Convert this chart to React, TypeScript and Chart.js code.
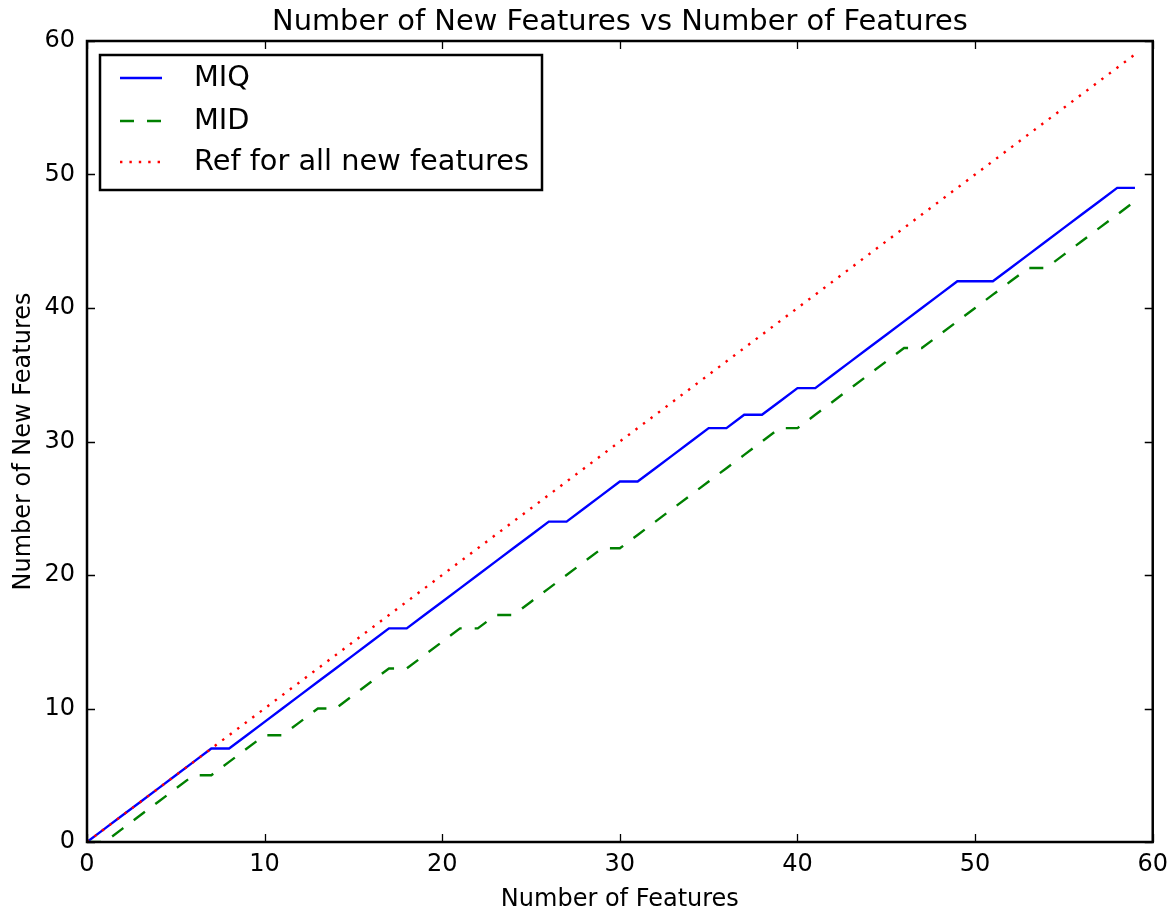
import React, { useEffect, useRef } from "react";
import { Chart, registerables } from "chart.js";

Chart.register(...registerables);

const features = [0,1,2,3,4,5,6,7,8,9,10,11,12,13,14,15,16,17,18,19,20,21,22,23,24,25,26,27,28,29,30,31,32,33,34,35,36,37,38,39,40,41,42,43,44,45,46,47,48,49,50,51,52,53,54,55,56,57,58,59];
const miq = [0,1,2,3,4,5,6,7,7,8,9,10,11,12,13,14,15,16,16,17,18,19,20,21,22,23,24,24,25,26,27,27,28,29,30,31,31,32,32,33,34,34,35,36,37,38,39,40,41,42,42,42,43,44,45,46,47,48,49,49];
const mid = [0,0,1,2,3,4,5,5,6,7,8,8,9,10,10,11,12,13,13,14,15,16,16,17,17,18,19,20,21,22,22,23,24,25,26,27,28,29,30,31,31,32,33,34,35,36,37,37,38,39,40,41,42,43,43,44,45,46,47,48];
const refAll = [0,1,2,3,4,5,6,7,8,9,10,11,12,13,14,15,16,17,18,19,20,21,22,23,24,25,26,27,28,29,30,31,32,33,34,35,36,37,38,39,40,41,42,43,44,45,46,47,48,49,50,51,52,53,54,55,56,57,58,59];
const seriesNames = ["MIQ", "MID", "Ref for all new features"];
const titleText = "Number of New Features vs Number of Features";
const xLabel = "Number of Features";
const yLabel = "Number of New Features";
const axisMin = 0;
const axisMax = 60;
const tickStep = 10;

const FONT = "'DejaVu Sans', 'Liberation Sans', sans-serif";

const decorPlugin = {
  id: "decor",
  afterDatasetsDraw(chart: any) {
    const ctx = chart.ctx;
    const a = chart.chartArea;
    const xs = chart.scales.x;
    const ys = chart.scales.y;
    ctx.save();
    // inward ticks on all sides
    ctx.strokeStyle = "#000";
    ctx.lineWidth = 1.3;
    const tl = 8;
    xs.ticks.forEach((t: any) => {
      const px = Math.round(xs.getPixelForValue(t.value)) + 0.5;
      ctx.beginPath();
      ctx.moveTo(px, a.bottom);
      ctx.lineTo(px, a.bottom - tl);
      ctx.moveTo(px, a.top);
      ctx.lineTo(px, a.top + tl);
      ctx.stroke();
    });
    ys.ticks.forEach((t: any) => {
      const py = Math.round(ys.getPixelForValue(t.value)) + 0.5;
      ctx.beginPath();
      ctx.moveTo(a.left, py);
      ctx.lineTo(a.left + tl, py);
      ctx.moveTo(a.right, py);
      ctx.lineTo(a.right - tl, py);
      ctx.stroke();
    });
    // frame
    ctx.lineWidth = 2.5;
    ctx.strokeRect(a.left, a.top, a.right - a.left, a.bottom - a.top);

    // legend
    const lx = a.left + 13;
    const ly = a.top + 14;
    const lw = 442;
    const lh = 135;
    ctx.fillStyle = "#fff";
    ctx.fillRect(lx, ly, lw, lh);
    ctx.lineWidth = 2.5;
    ctx.strokeStyle = "#000";
    ctx.strokeRect(lx, ly, lw, lh);
    const rows = [ly + 23, ly + 66, ly + 107];
    chart.data.datasets.forEach((ds: any, i: number) => {
      const y = rows[i];
      ctx.beginPath();
      ctx.strokeStyle = ds.borderColor;
      ctx.lineWidth = ds.borderWidth;
      ctx.setLineDash(ds.borderDash || []);
      ctx.lineCap = "butt";
      ctx.moveTo(lx + 20, y);
      ctx.lineTo(lx + 62, y);
      ctx.stroke();
      ctx.setLineDash([]);
      ctx.fillStyle = "#000";
      ctx.font = `28.8px ${FONT}`;
      ctx.textAlign = "left";
      ctx.textBaseline = "middle";
      ctx.fillText(ds.label, lx + 94, y + 1);
    });

    // title
    ctx.fillStyle = "#000";
    ctx.font = `28.9px ${FONT}`;
    ctx.textAlign = "center";
    ctx.textBaseline = "alphabetic";
    ctx.fillText(titleText, (a.left + a.right) / 2, a.top - 11);

    // axis titles
    ctx.font = `24px ${FONT}`;
    ctx.textBaseline = "alphabetic";
    ctx.fillText(xLabel, (a.left + a.right) / 2, a.bottom + 64);
    ctx.save();
    ctx.translate(30, (a.top + a.bottom) / 2);
    ctx.rotate(-Math.PI / 2);
    ctx.fillText(yLabel, 0, 0);
    ctx.restore();
    ctx.restore();
  },
};

export default function App() {
  const ref = useRef<HTMLCanvasElement | null>(null);
  useEffect(() => {
    if (!ref.current) return;
    const toPts = (arr: number[]) => features.map((f, i) => ({ x: f, y: arr[i] }));
    const chart = new Chart(ref.current, {
      type: "line",
      data: {
        datasets: [
          {
            label: seriesNames[0],
            data: toPts(miq),
            borderColor: "#0000ff",
            borderWidth: 2.4,
            pointRadius: 0,
            fill: false,
            tension: 0,
            order: 3,
          },
          {
            label: seriesNames[1],
            data: toPts(mid),
            borderColor: "#008000",
            borderWidth: 2.4,
            borderDash: [14, 13],
            pointRadius: 0,
            fill: false,
            tension: 0,
            order: 2,
          },
          {
            label: seriesNames[2],
            data: toPts(refAll),
            borderColor: "#ff0000",
            borderWidth: 2.4,
            borderDash: [2.4, 7],
            pointRadius: 0,
            fill: false,
            tension: 0,
            order: 1,
          },
        ],
      },
      options: {
        responsive: false,
        animation: false,
        events: [],
        layout: { padding: { left: 0, right: 20, top: 41, bottom: 0 } },
        plugins: {
          legend: { display: false },
          title: { display: false },
          tooltip: { enabled: false },
        },
        scales: {
          x: {
            type: "linear",
            min: axisMin,
            max: axisMax,
            ticks: {
              stepSize: tickStep,
              color: "#000",
              font: { family: FONT, size: 24 },
              padding: 8,
              maxRotation: 0,
            },
            grid: { drawOnChartArea: false, drawTicks: false },
            border: { display: false },
            afterFit: (s: any) => {
              s.height = 73;
            },
          },
          y: {
            type: "linear",
            min: axisMin,
            max: axisMax,
            ticks: {
              stepSize: tickStep,
              color: "#000",
              font: { family: FONT, size: 24 },
              padding: 12,
            },
            grid: { drawOnChartArea: false, drawTicks: false },
            border: { display: false },
            afterFit: (s: any) => {
              s.width = 87;
            },
          },
        },
      },
      plugins: [decorPlugin],
    });
    return () => chart.destroy();
  }, []);
  return (
    <div style={{ position: "absolute", left: 0, top: 0, width: 1176, height: 915, background: "#fff" }}>
      <canvas ref={ref} width={1176} height={915} style={{ display: "block" }} />
    </div>
  );
}
